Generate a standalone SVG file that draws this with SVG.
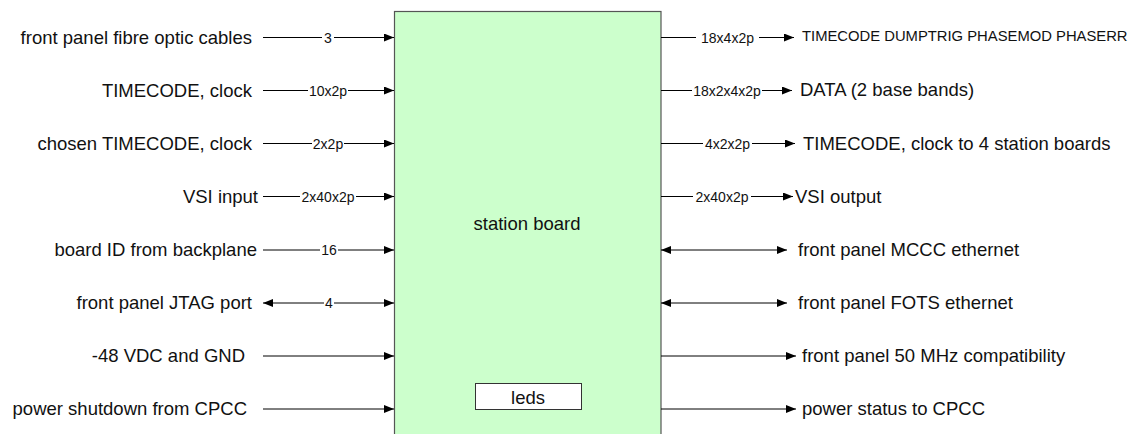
<svg xmlns="http://www.w3.org/2000/svg" width="1138" height="434" viewBox="0 0 1138 434">
  <style>
    .lbl { font-family: "Liberation Sans", Arial, sans-serif; font-size: 18.5px; fill: #111; }
    .sm { font-family: "Liberation Sans", Arial, sans-serif; font-size: 14px; fill: #111; }
    .tc { font-family: "Liberation Sans", Arial, sans-serif; font-size: 14.8px; fill: #111; }
    .wire { stroke: #000; stroke-width: 1; fill: none; }
    .board { fill: #ccffcc; stroke: #555; stroke-width: 1.2; }
    .leds { fill: #fff; stroke: #333; stroke-width: 1; }
  </style>
  <defs>
    <marker id="ah" viewBox="0 0 10 8" refX="10" refY="4" markerWidth="10" markerHeight="8" markerUnits="userSpaceOnUse" orient="auto-start-reverse">
      <path d="M0,0 L10,4 L0,8 Z" fill="#000"/>
    </marker>
  </defs>
  <rect width="1138" height="434" fill="#fff"/>

  <!-- main board -->
  <g id="station-board">
    <rect class="board" x="394.5" y="11.5" width="266.5" height="430"/>
    <text class="lbl" x="527" y="230" text-anchor="middle">station board</text>
  </g>
  <g id="leds">
    <rect class="leds" x="475.5" y="383.5" width="106" height="26"/>
    <text class="lbl" x="528" y="403.5" text-anchor="middle">leds</text>
  </g>

  <!-- inputs on the left -->
  <g id="in-fibre"><text class="lbl" x="252" y="43.5" text-anchor="end">front panel fibre optic cables</text></g>
  <g id="in-timecode"><text class="lbl" x="252" y="96.5" text-anchor="end">TIMECODE, clock</text></g>
  <g id="in-chosen"><text class="lbl" x="252" y="149.5" text-anchor="end">chosen TIMECODE, clock</text></g>
  <g id="in-vsi"><text class="lbl" x="258" y="202.5" text-anchor="end">VSI input</text></g>
  <g id="in-boardid"><text class="lbl" x="257" y="256" text-anchor="end">board ID from backplane</text></g>
  <g id="in-jtag"><text class="lbl" x="252" y="309" text-anchor="end">front panel JTAG port</text></g>
  <g id="in-power"><text class="lbl" x="245" y="362" text-anchor="end">-48 VDC and GND</text></g>
  <g id="in-shutdown"><text class="lbl" x="247" y="415" text-anchor="end">power shutdown from CPCC</text></g>

  <!-- outputs on the right -->
  <g id="out-tcdump"><text class="tc" x="802" y="40.5">TIMECODE DUMPTRIG PHASEMOD PHASERR</text></g>
  <g id="out-data"><text class="lbl" x="800" y="96">DATA (2 base bands)</text></g>
  <g id="out-timecode"><text class="lbl" x="803" y="149.5">TIMECODE, clock to 4 station boards</text></g>
  <g id="out-vsi"><text class="lbl" x="795" y="202.5">VSI output</text></g>
  <g id="out-mccc"><text class="lbl" x="798" y="256">front panel MCCC ethernet</text></g>
  <g id="out-fots"><text class="lbl" x="798" y="309">front panel FOTS ethernet</text></g>
  <g id="out-50mhz"><text class="lbl" x="802" y="362">front panel 50 MHz compatibility</text></g>
  <g id="out-status"><text class="lbl" x="802" y="415">power status to CPCC</text></g>

  <!-- connectors -->
  <g id="connectors">
    <!-- left side: split lines around the width labels -->
    <path class="wire" d="M263,37.5 H322"/>
    <path class="wire" d="M334,37.5 H394" marker-end="url(#ah)"/>
    <text class="sm" x="328" y="42.5" text-anchor="middle">3</text>

    <path class="wire" d="M263,90.5 H308"/>
    <path class="wire" d="M348,90.5 H394" marker-end="url(#ah)"/>
    <text class="sm" x="328" y="95.5" text-anchor="middle">10x2p</text>

    <path class="wire" d="M263,143.5 H312"/>
    <path class="wire" d="M344,143.5 H394" marker-end="url(#ah)"/>
    <text class="sm" x="328" y="148.5" text-anchor="middle">2x2p</text>

    <path class="wire" d="M263,196.5 H300"/>
    <path class="wire" d="M356,196.5 H394" marker-end="url(#ah)"/>
    <text class="sm" x="328" y="201.5" text-anchor="middle">2x40x2p</text>

    <path class="wire" d="M263,250 H320"/>
    <path class="wire" d="M338,250 H394" marker-end="url(#ah)"/>
    <text class="sm" x="329" y="255" text-anchor="middle">16</text>

    <path class="wire" d="M263,303 H324" marker-start="url(#ah)"/>
    <path class="wire" d="M334,303 H394" marker-end="url(#ah)"/>
    <text class="sm" x="329" y="308" text-anchor="middle">4</text>

    <path class="wire" d="M263,356 H394" marker-end="url(#ah)"/>
    <path class="wire" d="M263,409 H394" marker-end="url(#ah)"/>

    <!-- right side -->
    <path class="wire" d="M661,37.5 H696"/>
    <path class="wire" d="M759,37.5 H794" marker-end="url(#ah)"/>
    <text class="sm" x="727.5" y="42.5" text-anchor="middle">18x4x2p</text>

    <path class="wire" d="M661,90.5 H692"/>
    <path class="wire" d="M762,90.5 H792" marker-end="url(#ah)"/>
    <text class="sm" x="727" y="95.5" text-anchor="middle">18x2x4x2p</text>

    <path class="wire" d="M661,143.5 H703"/>
    <path class="wire" d="M752,143.5 H795" marker-end="url(#ah)"/>
    <text class="sm" x="727.5" y="148.5" text-anchor="middle">4x2x2p</text>

    <path class="wire" d="M661,196.5 H693"/>
    <path class="wire" d="M751,196.5 H793" marker-end="url(#ah)"/>
    <text class="sm" x="722" y="201.5" text-anchor="middle">2x40x2p</text>

    <path class="wire" d="M661,250 H787" marker-start="url(#ah)" marker-end="url(#ah)"/>
    <path class="wire" d="M661,303 H787" marker-start="url(#ah)" marker-end="url(#ah)"/>
    <path class="wire" d="M661,356 H796" marker-end="url(#ah)"/>
    <path class="wire" d="M661,409 H796" marker-end="url(#ah)"/>
  </g>
</svg>
